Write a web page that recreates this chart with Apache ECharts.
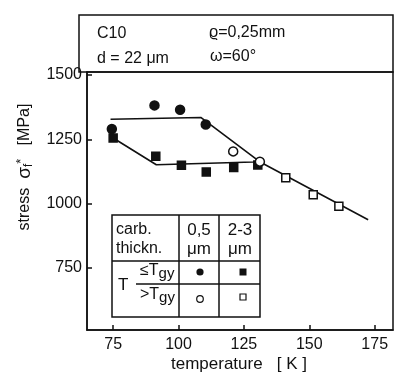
<!DOCTYPE html>
<html>
<head>
<meta charset="utf-8">
<script src="https://cdn.jsdelivr.net/npm/echarts@6/dist/echarts.min.js"></script>
<style>
  html, body { margin: 0; padding: 0; background: #fff; }
  #chart { width: 398px; height: 379px; }
</style>
</head>
<body>
<div id="chart"></div>
<script>
// measured points [temperature K, stress MPa]
const filledCircles = [[74.5, 1290], [90.8, 1382], [100.6, 1365], [110.4, 1308]]
const openCircles = [[120.9, 1203], [131.1, 1163]]
const filledSquares = [[75, 1255], [91.3, 1184], [101.1, 1149], [110.6, 1123], [121.1, 1140], [130.3, 1150]]
const openSquares = [[141, 1100], [151.5, 1034], [161.3, 990]]
// drawn trend lines
const upperFit = [[74, 1328], [108.5, 1335], [131, 1163], [172.5, 937]]
const lowerFit = [[75, 1255], [91.5, 1151], [128.5, 1162], [131, 1163]]
const xTicks = [75, 100, 125, 150, 175]
const yTicks = [750, 1000, 1250, 1500]

const FONT = '"Liberation Sans", Arial, sans-serif'

const chart = echarts.init(document.getElementById('chart'))

function markerSeries(data, symbol, filled, size) {
  return {
    type: 'scatter',
    data: data,
    symbol: symbol,
    symbolSize: size,
    z: 5,
    itemStyle: {
      color: filled ? '#111' : '#fff',
      borderColor: '#111',
      borderWidth: 1.5,
      opacity: 1
    }
  }
}

function fitSeries(data) {
  return {
    type: 'line',
    data: data,
    showSymbol: false,
    symbol: 'none',
    z: 3,
    lineStyle: { color: '#111', width: 1.6 }
  }
}

const txt = (x, y, text, size, align) => ({
  type: 'text',
  x: x,
  y: y,
  z: 11,
  style: {
    text: text,
    font: size + 'px ' + FONT,
    fill: '#111',
    align: align || 'left',
    verticalAlign: 'middle'
  }
})

const line = (x1, y1, x2, y2) => ({
  type: 'line',
  z: 11,
  shape: { x1: x1, y1: y1, x2: x2, y2: y2 },
  style: { stroke: '#111', lineWidth: 1.5 }
})

const subText = (x, y, lead) => ({
  type: 'text', x: x, y: y, z: 11,
  style: {
    text: lead + 'T{s|gy}', font: '16px ' + FONT, fill: '#111', verticalAlign: 'middle',
    rich: { s: { fontSize: 15, fontFamily: FONT, padding: [6, 0, 0, 0] } }
  }
})

const option = {
  backgroundColor: '#fff',
  animation: false,
  textStyle: { fontFamily: FONT },
  grid: {
    left: 87,
    right: 5,
    top: 72,
    bottom: 49,
    show: true,
    borderColor: '#111',
    borderWidth: 1.5,
    backgroundColor: 'transparent'
  },
  xAxis: {
    type: 'value',
    min: 65,
    max: 182,
    axisLine: { lineStyle: { color: '#111', width: 1.5 } },
    axisTick: { inside: true, length: 5, customValues: xTicks, lineStyle: { color: '#111', width: 1.5 } },
    axisLabel: { customValues: xTicks, color: '#111', fontSize: 16, fontFamily: FONT, margin: 7,
      formatter: v => String(v) },
    splitLine: { show: false }
  },
  yAxis: {
    type: 'value',
    min: 508,
    max: 1512,
    axisLine: { lineStyle: { color: '#111', width: 1.5 } },
    axisTick: { inside: true, length: 5, customValues: yTicks, lineStyle: { color: '#111', width: 1.5 } },
    axisLabel: { customValues: yTicks, color: '#111', fontSize: 16, fontFamily: FONT, margin: 5,
      formatter: v => String(v) },
    splitLine: { show: false }
  },
  series: [
    fitSeries(upperFit),
    fitSeries(lowerFit),
    markerSeries(filledSquares, 'rect', true, 8),
    markerSeries(filledCircles, 'circle', true, 9),
    markerSeries(openSquares, 'rect', false, 8),
    markerSeries(openCircles, 'circle', false, 9)
  ],
  graphic: [
    // header box
    {
      type: 'rect',
      shape: { x: 79, y: 15, width: 314, height: 57 },
      style: { fill: 'none', stroke: '#111', lineWidth: 1.5 }
    },
    txt(97, 34, 'C10', 16),
    txt(97, 59, 'd = 22 μm', 16),
    txt(209, 33, 'ϱ=0,25mm', 16),
    txt(210, 57, 'ω=60°', 16),
    // axis names
    {
      type: 'text',
      x: 25,
      y: 167,
      rotation: Math.PI / 2,
      style: {
        text: 'stress  {g|σ}{s|f}{p|*}   [MPa]',
        font: '16px ' + FONT,
        fill: '#111',
        align: 'center',
        verticalAlign: 'middle',
        rich: {
          g: { fontSize: 19, fontFamily: FONT },
          s: { fontSize: 12, fontFamily: FONT, padding: [7, 0, 0, 0] },
          p: { fontSize: 13, fontFamily: FONT, padding: [0, 0, 7, 0] }
        }
      }
    },
    txt(239, 364, 'temperature   [ K ]', 17, 'center'),
    // legend table
    {
      type: 'rect',
      shape: { x: 112, y: 215, width: 148, height: 102 },
      style: { fill: '#fff', stroke: '#111', lineWidth: 1.5 },
      z: 10
    },
    line(179, 215, 179, 317),
    line(219, 215, 219, 317),
    line(112, 261, 260, 261),
    line(136, 284, 260, 284),
    txt(116, 230, 'carb.', 16),
    txt(116, 249, 'thickn.', 16),
    txt(199, 230, '0,5', 17, 'center'),
    txt(199, 249, 'μm', 17, 'center'),
    txt(240, 230, '2-3', 17, 'center'),
    txt(240, 249, 'μm', 17, 'center'),
    txt(118, 285, 'T', 17),
    subText(140, 271, '≤'),
    subText(140, 295, '>'),
    { type: 'circle', z: 11, shape: { cx: 200, cy: 272, r: 3.6 }, style: { fill: '#111' } },
    { type: 'rect', z: 11, shape: { x: 239.5, y: 268.5, width: 7, height: 7 }, style: { fill: '#111' } },
    { type: 'circle', z: 11, shape: { cx: 200, cy: 299, r: 3.3 }, style: { fill: '#fff', stroke: '#111', lineWidth: 1.2 } },
    { type: 'rect', z: 11, shape: { x: 240, y: 294, width: 6, height: 6 }, style: { fill: '#fff', stroke: '#111', lineWidth: 1.2 } }
  ]
}

chart.setOption(option)
</script>
</body>
</html>
